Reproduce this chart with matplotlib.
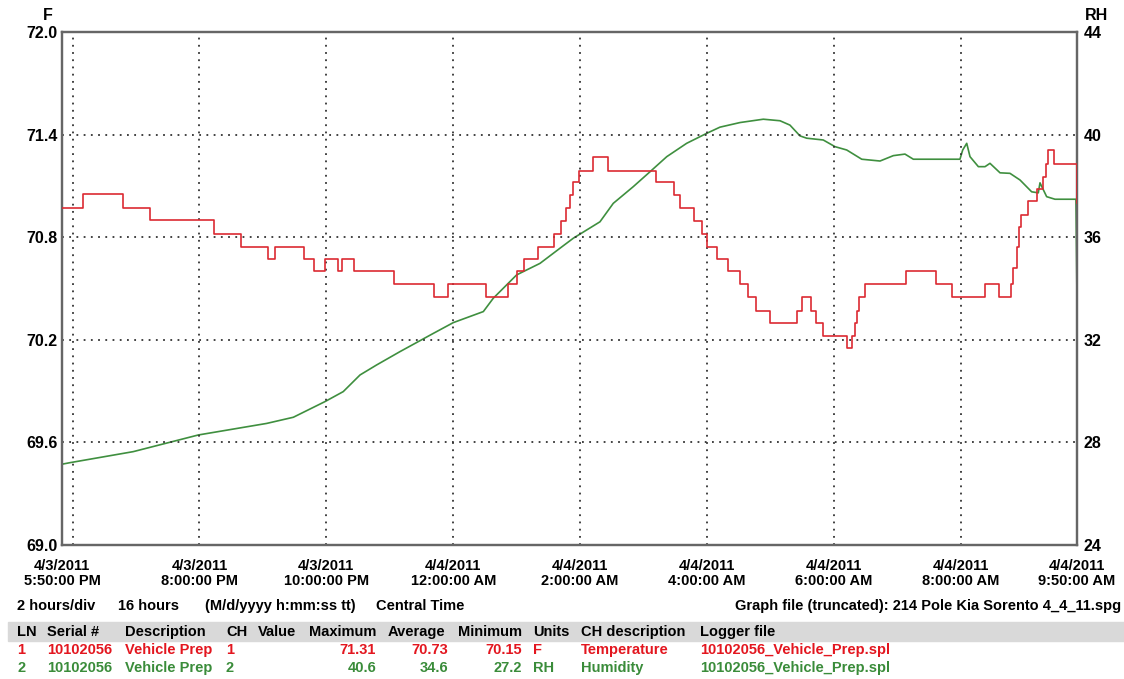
# plot.py
import matplotlib.pyplot as plt
from matplotlib.patches import Rectangle

# minutes after 4/3/2011 5:50 PM
temp_min = [0, 20, 58, 83, 144, 169, 194.5, 201.5, 229, 238, 249, 261, 264.5, 276,
            314, 352, 365, 401, 422, 430, 437, 450.5, 465, 472, 477, 480.5, 483.5,
            489, 502.5, 516, 562, 579, 584.5, 598, 605, 610, 619.5, 630, 641, 649,
            656.5, 669.5, 695.5, 699.5, 708, 713.5, 719.5, 742, 747, 750, 752, 754,
            759.5, 798, 827, 842, 873, 886.5, 898, 899.5, 903, 905.5, 907.5, 914,
            922, 928, 931, 932.5, 938, 959, 960]
temp_f = [70.97, 71.05, 70.97, 70.90, 70.82, 70.74, 70.67, 70.74, 70.67, 70.60, 70.67,
          70.60, 70.67, 70.60, 70.525, 70.45, 70.525, 70.45, 70.525, 70.60, 70.67,
          70.745, 70.82, 70.895, 70.97, 71.045, 71.12, 71.19, 71.27, 71.19, 71.12,
          71.045, 70.97, 70.895, 70.82, 70.745, 70.67, 70.60, 70.525, 70.45, 70.37,
          70.30, 70.37, 70.45, 70.37, 70.30, 70.22, 70.15, 70.22, 70.30, 70.37,
          70.45, 70.525, 70.60, 70.525, 70.45, 70.525, 70.45, 70.525, 70.62, 70.74,
          70.86, 70.93, 71.01, 71.08, 71.15, 71.23, 71.31, 71.23, 71.23, 71.0]

rh_min = [0, 7.6, 67.4, 129, 193.6, 218.8, 248.7, 266, 281.9, 297.6, 319.7, 351.2,
          370.1, 398.5, 407.9, 430, 452.1, 471, 483.6, 508.8, 521.4, 540.3, 556.1,
          572, 590.8, 609.8, 622.3, 641.3, 663.3, 679.1, 688.5, 698, 704.3, 720,
          731.1, 742.2, 756.4, 773.7, 786.3, 797.3, 805.2, 849.3, 851.9, 855.7,
          858.8, 866.7, 873, 877.7, 887.2, 896.6, 906.1, 917.1, 923.4, 925, 931.3,
          939.2, 959, 960]
rh_val = [27.15, 27.21, 27.64, 28.29, 28.74, 28.98, 29.59, 29.98, 30.63, 31.02, 31.54,
          32.25, 32.67, 33.10, 33.62, 34.53, 34.98, 35.57, 35.96, 36.60, 37.32, 37.97,
          38.55, 39.14, 39.66, 40.05, 40.29, 40.47, 40.60, 40.54, 40.37, 39.95, 39.86,
          39.79, 39.53, 39.40, 39.04, 38.97, 39.18, 39.24, 39.04, 39.04, 39.40, 39.66,
          39.14, 38.75, 38.75, 38.88, 38.51, 38.49, 38.23, 37.77, 37.73, 38.12, 37.58,
          37.48, 37.48, 33.55]

tick_min = [0, 130, 250, 370, 490, 610, 730, 850, 960]
tick_lbl = ['4/3/2011\n5:50:00 PM', '4/3/2011\n8:00:00 PM', '4/3/2011\n10:00:00 PM',
            '4/4/2011\n12:00:00 AM', '4/4/2011\n2:00:00 AM', '4/4/2011\n4:00:00 AM',
            '4/4/2011\n6:00:00 AM', '4/4/2011\n8:00:00 AM', '4/4/2011\n9:50:00 AM']
grid_min = [10, 130, 250, 370, 490, 610, 730, 850]
f_ticks = [69.0, 69.6, 70.2, 70.8, 71.4, 72.0]
rh_ticks = [24, 28, 32, 36, 40, 44]

header = ['LN', 'Serial #', 'Description', 'CH', 'Value', 'Maximum', 'Average',
          'Minimum', 'Units', 'CH description', 'Logger file']
row1 = ['1', '10102056', 'Vehicle Prep', '1', '', '71.31', '70.73', '70.15', 'F',
        'Temperature', '10102056_Vehicle_Prep.spl']
row2 = ['2', '10102056', 'Vehicle Prep', '2', '', '40.6', '34.6', '27.2', 'RH',
        'Humidity', '10102056_Vehicle_Prep.spl']

RED = '#dc2a32'
GREEN = '#3f8f3f'
TRED = '#e3161f'
TGREEN = '#3a8c3a'

plt.rcParams['font.family'] = ['Liberation Sans', 'DejaVu Sans']
plt.rcParams['font.weight'] = 'bold'
FS = 10.5
YFS = 11.5

W, H = 1124, 679
fig = plt.figure(figsize=(W / 100, H / 100), dpi=100)
ax = fig.add_axes([62 / W, 1 - 545 / H, (1077 - 62) / W, (545 - 32) / H])
ax2 = ax.twinx()

ax.step(temp_min, temp_f, where='post', color=RED, lw=1.2, zorder=3)
ax2.plot(rh_min, rh_val, color=GREEN, lw=1.2)

ax.set_xlim(0, 960)
ax.set_ylim(69.0, 72.0)
ax2.set_ylim(24, 44)
ax.set_yticks(f_ticks)
ax.set_yticklabels([f'{v:.1f}' for v in f_ticks], fontsize=YFS, fontweight='bold')
ax2.set_yticks(rh_ticks)
ax2.set_yticklabels([str(v) for v in rh_ticks], fontsize=YFS, fontweight='bold')
ax.set_xticks(tick_min)
ax.set_xticklabels(tick_lbl, fontsize=FS, fontweight='bold', linespacing=1.1)
ax.xaxis.remove_overlapping_locs = False
ax.set_xticks(grid_min, minor=True)
ax.tick_params(axis='both', which='both', length=0)
ax.tick_params(axis='y', pad=3)
ax.tick_params(axis='x', pad=10)
ax2.tick_params(axis='y', length=0, pad=5)

gstyle = dict(color='#333333', linestyle=(0, (1, 3)), linewidth=1.3)
ax.grid(which='minor', axis='x', **gstyle)
ax.grid(which='major', axis='x', visible=False)
ax.grid(which='major', axis='y', **gstyle)
ax.set_zorder(ax2.get_zorder() + 1)
ax.patch.set_visible(False)

for a in (ax, ax2):
    for s in a.spines.values():
        s.set_color('#666666')
        s.set_linewidth(1.6)

fig.text(48 / W, 1 - 16 / H, 'F', fontsize=YFS, fontweight='bold', ha='center', va='center')
fig.text(1096 / W, 1 - 16 / H, 'RH', fontsize=YFS, fontweight='bold', ha='center', va='center')

ty = 1 - 606 / H
for x, s in [(17, '2 hours/div'), (118, '16 hours'), (205, '(M/d/yyyy h:mm:ss tt)'),
             (376, 'Central Time')]:
    fig.text(x / W, ty, s, fontsize=FS, fontweight='bold', va='center')
fig.text(1121 / W, ty, 'Graph file (truncated): 214 Pole Kia Sorento 4_4_11.spg',
         fontsize=FS, fontweight='bold', va='center', ha='right')

fig.patches.append(Rectangle((8 / W, 1 - 641 / H), (W - 8) / W, 19 / H,
                             transform=fig.transFigure, color='#d9d9d9', zorder=0))

col_x = [17, 47, 125, 226, 258, 309, 388, 458, 533, 581, 700]
num_right = {5: 376, 6: 448, 7: 522}
for row, y, c in [(header, 632, 'black'), (row1, 650, TRED), (row2, 668, TGREEN)]:
    for i, s in enumerate(row):
        if row is not header and i in num_right:
            fig.text(num_right[i] / W, 1 - y / H, s, fontsize=FS, fontweight='bold',
                     color=c, va='center', ha='right')
        else:
            fig.text(col_x[i] / W, 1 - y / H, s, fontsize=FS, fontweight='bold',
                     color=c, va='center')

fig.savefig('out.png', dpi=100)
